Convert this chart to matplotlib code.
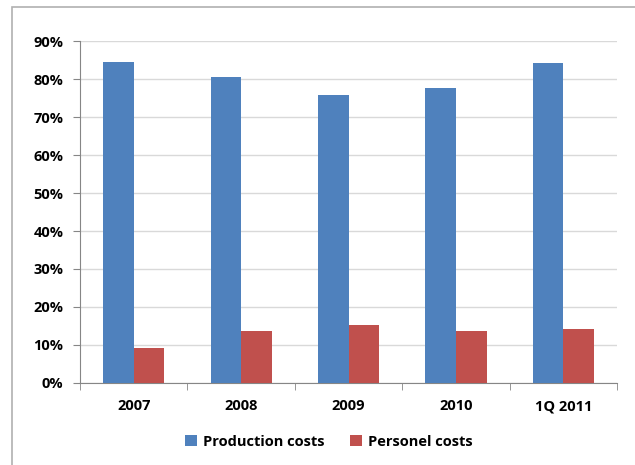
import matplotlib.pyplot as plt
import matplotlib.patches as mpatches
import numpy as np
from matplotlib.ticker import PercentFormatter

categories = ['2007', '2008', '2009', '2010', '1Q 2011']
production = [0.845, 0.805, 0.758, 0.776, 0.843]
personnel = [0.091, 0.135, 0.151, 0.137, 0.142]

plt.rcParams['font.family'] = ['Open Sans', 'DejaVu Sans']
plt.rcParams['font.weight'] = 'bold'

fig = plt.figure(figsize=(6.35, 4.65), dpi=100)
ax = fig.add_axes([0.126, 0.177, 0.846, 0.734])

x = np.arange(len(categories))
w = 0.285
ax.bar(x - w / 2, production, w, color='#4F81BD', label='Production costs', zorder=3)
ax.bar(x + w / 2, personnel, w, color='#C0504D', label='Personel costs', zorder=3)

ax.set_xlim(-0.5, len(categories) - 0.5)
ax.set_ylim(0, 0.9)
ax.set_yticks(np.arange(0, 0.91, 0.1))
ax.yaxis.set_major_formatter(PercentFormatter(1.0, decimals=0))
ax.set_xticks(x)
ax.set_xticklabels(categories)
ax.set_xticks(np.arange(-0.5, len(categories), 1), minor=True)
ax.tick_params(axis='x', which='major', length=0, pad=12, labelsize=10.5)
ax.tick_params(axis='x', which='minor', length=5, color='#868686', direction='out')
ax.tick_params(axis='y', length=5, color='#868686', labelsize=10.5, pad=7)

ax.grid(axis='y', color='#d9d9d9', linewidth=1, zorder=0)
for s in ['top', 'right']:
    ax.spines[s].set_visible(False)
ax.spines['left'].set_color('#868686')
ax.spines['bottom'].set_color('#868686')

ax.legend(loc='center', bbox_to_anchor=(0.518, 0.05), bbox_transform=fig.transFigure,
          ncol=2, frameon=False, fontsize=10.5, handlelength=0.8, handleheight=0.8,
          handletextpad=0.4, columnspacing=1.8)

frame = mpatches.Rectangle((0.019, -0.1), 1.2, 1.085, transform=fig.transFigure,
                           fill=False, edgecolor='#b0b0b0', linewidth=1.2, clip_on=False)
fig.patches.append(frame)

fig.savefig('out.png', dpi=100)
